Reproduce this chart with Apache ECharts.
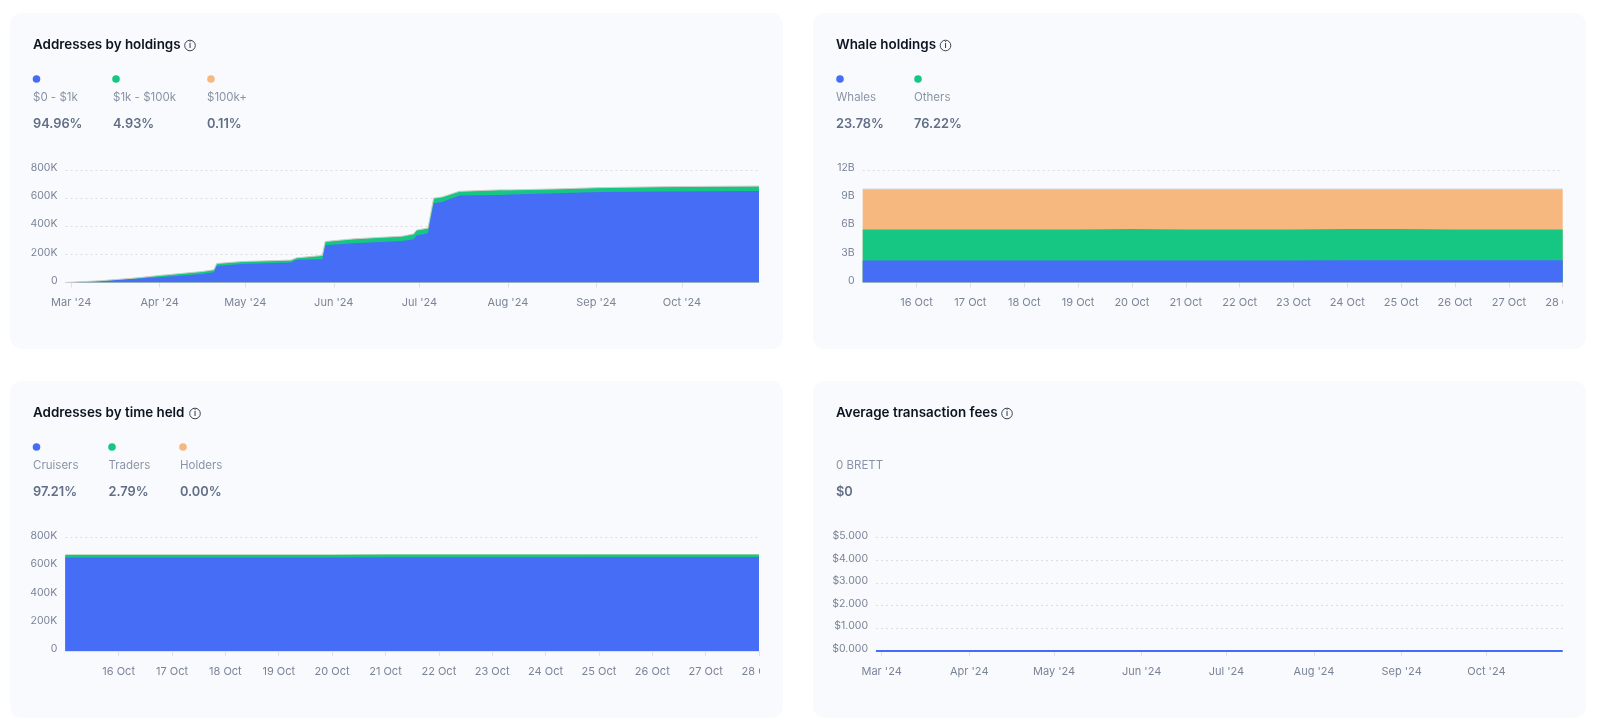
<!DOCTYPE html>
<html>
<head>
<meta charset="utf-8">
<style>html,body{margin:0;padding:0;background:#fff}#c{width:1600px;height:727px}</style>
<script src="https://cdn.jsdelivr.net/npm/echarts@6/dist/echarts.min.js"></script>
</head>
<body>
<div id="c"></div>
<script>
// ---- data ----
const holdDates = ['2024-02-28','2024-03-11','2024-03-23','2024-04-01','2024-04-16','2024-04-20','2024-04-21','2024-04-30','2024-05-17','2024-05-19','2024-05-28','2024-05-29','2024-06-08','2024-06-25','2024-06-29','2024-06-30','2024-07-04','2024-07-06','2024-07-09','2024-07-15','2024-07-29','2024-08-02','2024-08-18','2024-09-02','2024-09-26','2024-10-28'];
const holdSmall = [0,10000,26000,38000,60000,73000,118000,132000,142000,161000,166000,265000,279000,296000,308000,334000,350000,563000,573000,618000,622000,625000,634000,644000,648000,651000];
const holdMid = [0,2000,5000,12000,18000,17000,17000,17000,17000,14000,26000,26000,31000,33000,37000,38000,36000,36000,35000,30000,36000,33000,31000,30000,33000,34000];
const holdHigh = [0,200,200,300,300,300,300,300,400,400,400,500,500,500,500,500,600,600,600,600,700,700,700,700,700,750];

const octDates = ['2024-10-15','2024-10-16','2024-10-17','2024-10-18','2024-10-19','2024-10-20','2024-10-21','2024-10-22','2024-10-23','2024-10-24','2024-10-25','2024-10-26','2024-10-27','2024-10-28'];
const whaleBlue = [2.36e9,2.36e9,2.36e9,2.36e9,2.36e9,2.36e9,2.36e9,2.36e9,2.36e9,2.38e9,2.38e9,2.38e9,2.38e9,2.38e9];
const whaleGreen = [3.29e9,3.29e9,3.30e9,3.30e9,3.30e9,3.34e9,3.30e9,3.30e9,3.30e9,3.32e9,3.32e9,3.28e9,3.28e9,3.28e9];
const whaleOrange = [4.33e9,4.33e9,4.32e9,4.32e9,4.32e9,4.28e9,4.32e9,4.32e9,4.32e9,4.28e9,4.28e9,4.32e9,4.32e9,4.32e9];

const timeCruisers = [660000,660000,660000,661000,661000,661000,662000,662000,662000,662000,663000,663000,663000,663000];
const timeTraders = [19000,19000,19000,19000,19000,19000,19000,19000,19000,19000,19000,19000,19000,19000];
const timeHolders = [0,0,0,0,0,0,0,0,0,0,0,0,0,0];

const feeDates = ['2024-02-28','2024-04-01','2024-05-01','2024-06-01','2024-07-01','2024-08-01','2024-09-01','2024-10-01','2024-10-28'];
const feeValues = [0.004,0.003,0.003,0.002,0.002,0.002,0.001,0.001,0.001];

const monthTicks = ['2024-03-01','2024-04-01','2024-05-01','2024-06-01','2024-07-01','2024-08-01','2024-09-01','2024-10-01'];
const monthLabels = ["Mar '24","Apr '24","May '24","Jun '24","Jul '24","Aug '24","Sep '24","Oct '24"];
const dayTicks = ['2024-10-16','2024-10-17','2024-10-18','2024-10-19','2024-10-20','2024-10-21','2024-10-22','2024-10-23','2024-10-24','2024-10-25','2024-10-26','2024-10-27','2024-10-28'];
const dayLabels = ['16 Oct','17 Oct','18 Oct','19 Oct','20 Oct','21 Oct','22 Oct','23 Oct','24 Oct','25 Oct','26 Oct','27 Oct','28 Oct'];

// ---- styling ----
const BLUE='#466df6', GREEN='#16c784', ORANGE='#f6b87e', CARD='#f9fafe';
const FONT='Inter, sans-serif';
const AXC='#7a8497';
const ts = s => { const p=s.split('-').map(Number); return Date.UTC(p[0],p[1]-1,p[2]); };
const zip = (d,v) => d.map((x,i)=>[ts(x),v[i]]);
// running totals: each band is drawn from the axis up to the sum of the bands below it
const sum = (...arrs) => arrs[0].map((_,i)=>arrs.reduce((a,b)=>a+b[i],0));

function xAxis(gi,ticks,labels,min,max){
  const vals=ticks.map(ts), map={};
  vals.forEach((v,i)=>map[v]=labels[i]);
  return {type:'value',gridIndex:gi,min:ts(min),max:ts(max),scale:true,
    axisLine:{show:true,onZero:false,lineStyle:{color:'#dde1ea',width:1}},
    axisTick:{show:true,customValues:vals,length:5,lineStyle:{color:'#dde1ea'}},
    splitLine:{show:false},
    axisLabel:{customValues:vals,margin:15,color:AXC,fontSize:11,fontFamily:FONT,hideOverlap:false,formatter:v=>map[v]||''}};
}
function yAxis(gi,max,interval,fmt){
  return {type:'value',gridIndex:gi,min:0,max,interval,
    axisLine:{show:false},axisTick:{show:false},
    splitLine:{show:true,lineStyle:{color:'#d9dde5',type:[2,3],width:1}},
    axisLabel:{margin:8,color:AXC,fontSize:10.5,fontFamily:FONT,verticalAlign:'bottom',lineHeight:4,formatter:fmt}};
}
function area(name,gi,color,data,edge){
  return {name,type:'line',xAxisIndex:gi,yAxisIndex:gi,data,showSymbol:false,symbol:'none',
    lineStyle:edge?{width:1,color:edge}:{width:0,color},itemStyle:{color},areaStyle:{color,opacity:1},silent:true,animation:false};
}
const kFmt=v=>v===0?'0':(v/1000)+'K';
const bFmt=v=>v===0?'0':(v/1e9)+'B';
const feeFmt=v=>'$'+v.toFixed(3);

// ---- overlay text, dots and cards ----
const g=[];
const card=(x,y,w,h)=>g.push({type:'rect',z:-10,silent:true,shape:{x,y,width:w,height:h,r:12},style:{fill:CARD}});
const txt=(x,y,t,o)=>g.push({type:'text',z:10,silent:true,x,y,style:Object.assign({text:t,fontFamily:FONT,verticalAlign:'middle',align:'left'},o)});
const title=(x,y,t,ix)=>{
  txt(x,y,t,{fontSize:13.4,fontWeight:600,fill:'#0d1421'});
  g.push({type:'circle',z:10,silent:true,shape:{cx:ix,cy:y+0.5,r:5.3},style:{fill:'none',stroke:'#3b4252',lineWidth:1}});
  txt(ix,y+0.5,'i',{fontSize:8,fontWeight:600,fill:'#3b4252',align:'center'});
};
const leg=(dx,lx,y,c,label,pct)=>{
  g.push({type:'circle',z:10,silent:true,shape:{cx:dx,cy:y,r:3.8},style:{fill:c}});
  txt(lx,y+18.5,label,{fontSize:11.5,fill:'#8a94a6'});
  txt(lx,y+45,pct,{fontSize:12.8,fontWeight:600,fill:'#616e85'});
};
card(10,13,773,336); card(813,13,773,336); card(10,381,773,337); card(813,381,773,337);

title(33,45,'Addresses by holdings',190);
leg(36.5,33,79,BLUE,'$0 - $1k','94.96%');
leg(116,113,79,GREEN,'$1k - $100k','4.93%');
leg(211,207,79,ORANGE,'$100k+','0.11%');

title(836,45,'Whale holdings',945.5);
leg(840,836,79,BLUE,'Whales','23.78%');
leg(918,914,79,GREEN,'Others','76.22%');

title(33,413,'Addresses by time held',195);
leg(36.5,33,447,BLUE,'Cruisers','97.21%');
leg(112,108.5,447,GREEN,'Traders','2.79%');
leg(183,180,447,ORANGE,'Holders','0.00%');

title(836,413,'Average transaction fees',1007);
txt(836,465.5,'0 BRETT',{fontSize:11.5,fill:'#8a94a6'});
txt(836,492,'$0',{fontSize:12.8,fontWeight:600,fill:'#616e85'});

// the last day label is cut off at the plot's right edge in the original
g.push({type:'rect',z:20,silent:true,shape:{x:1563,y:292,width:22,height:20},style:{fill:CARD}});
g.push({type:'rect',z:20,silent:true,shape:{x:760,y:660,width:22,height:20},style:{fill:CARD}});

const grid=(l,r,t,b)=>({left:l,top:t,width:r-l,height:b-t,containLabel:false});

const option={
  animation:false,
  backgroundColor:'#ffffff',
  graphic:{elements:g},
  grid:[grid(65.5,759,170,282.5),grid(862.7,1562.7,170,282.5),grid(65.3,759,537.7,651),grid(876,1562.7,537.7,651)],
  xAxis:[
    xAxis(0,monthTicks,monthLabels,'2024-02-28','2024-10-28'),
    xAxis(1,dayTicks,dayLabels,'2024-10-15','2024-10-28'),
    xAxis(2,dayTicks,dayLabels,'2024-10-15','2024-10-28'),
    xAxis(3,monthTicks,monthLabels,'2024-02-28','2024-10-28')
  ],
  yAxis:[yAxis(0,800000,200000,kFmt),yAxis(1,12e9,3e9,bFmt),yAxis(2,800000,200000,kFmt),yAxis(3,5,1,feeFmt)],
  series:[
    area('$100k+',0,ORANGE,zip(holdDates,sum(holdSmall,holdMid,holdHigh)),'#c9cfc9'),
    area('$1k - $100k',0,GREEN,zip(holdDates,sum(holdSmall,holdMid))),
    area('$0 - $1k',0,BLUE,zip(holdDates,holdSmall)),
    area('Others 2',1,ORANGE,zip(octDates,sum(whaleBlue,whaleGreen,whaleOrange)),'#dcdcdc'),
    area('Others',1,GREEN,zip(octDates,sum(whaleBlue,whaleGreen))),
    area('Whales',1,BLUE,zip(octDates,whaleBlue)),
    area('Holders',2,ORANGE,zip(octDates,sum(timeCruisers,timeTraders,timeHolders))),
    area('Traders',2,GREEN,zip(octDates,sum(timeCruisers,timeTraders))),
    area('Cruisers',2,BLUE,zip(octDates,timeCruisers)),
    {name:'Fees',type:'line',xAxisIndex:3,yAxisIndex:3,data:zip(feeDates,feeValues),showSymbol:false,symbol:'none',clip:false,
      lineStyle:{width:2,color:BLUE},itemStyle:{color:BLUE},silent:true}
  ]
};
const chart=echarts.init(document.getElementById('c'),null,{renderer:'canvas'});
chart.setOption(option);
</script>
</body>
</html>
